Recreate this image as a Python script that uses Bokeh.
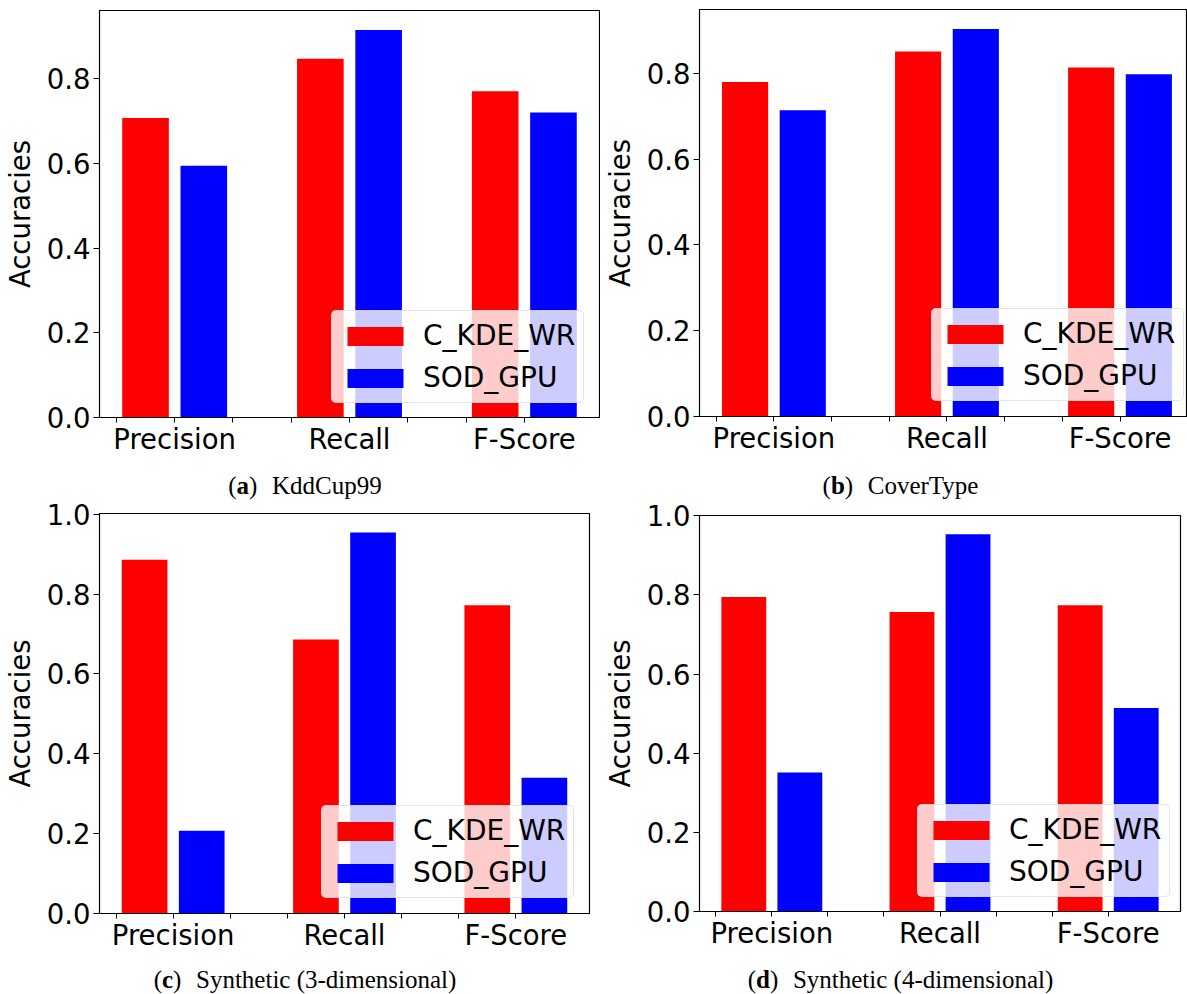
from bokeh.plotting import figure
from bokeh.models import (Range1d, FixedTicker, PrintfTickFormatter, Legend,
                          LegendItem, Div, ColumnDataSource)
from bokeh.layouts import column, row
from bokeh.embed import file_html
from bokeh.resources import INLINE

# ---------------- data ----------------
metrics = ["Precision", "Recall", "F-Score"]
series_names = ["C_KDE_WR", "SOD_GPU"]
series_colors = ["#ff0000", "#0000ff"]

kdd_ckde = [0.707, 0.847, 0.770]
kdd_sod = [0.594, 0.915, 0.720]

cover_ckde = [0.780, 0.851, 0.814]
cover_sod = [0.714, 0.904, 0.798]

syn3_ckde = [0.886, 0.686, 0.772]
syn3_sod = [0.207, 0.954, 0.340]

syn4_ckde = [0.795, 0.757, 0.774]
syn4_sod = [0.351, 0.953, 0.514]

y_ticks_top = [0.0, 0.2, 0.4, 0.6, 0.8]
y_ticks_bottom = [0.0, 0.2, 0.4, 0.6, 0.8, 1.0]

captions = [("a", "KddCup99"), ("b", "CoverType"),
            ("c", "Synthetic (3-dimensional)"), ("d", "Synthetic (4-dimensional)")]

# ---------------- layout settings ----------------
BAR_W = 0.8
FONT = "DejaVu Sans"
FS = "27.5px"

panels = [
    dict(a=kdd_ckde, b=kdd_sod, yt=y_ticks_top, w=600, h=462, bl=98, br=1, bt=10, bb=45,
         x_end=None, leg=(232, 14), cap_h=38, cap_pad=12, cap_dx=5),
    dict(a=cover_ckde, b=cover_sod, yt=y_ticks_top, w=587, h=462, bl=94, br=0, bt=9, bb=46,
         x_end=8.17, leg=(232, 15), cap_h=38, cap_pad=12, cap_dx=7),
    dict(a=syn3_ckde, b=syn3_sod, yt=y_ticks_bottom, w=600, h=458, bl=98, br=11, bt=13, bb=45,
         x_end=None, leg=(222, 15), cap_h=36, cap_pad=10, cap_dx=5),
    dict(a=syn4_ckde, b=syn4_sod, yt=y_ticks_bottom, w=587, h=458, bl=94, br=7, bt=15, bb=47,
         x_end=None, leg=(218, 14), cap_h=36, cap_pad=10, cap_dx=7),
]


def make_panel(cfg, letter, name):
    n = len(metrics)
    x_red = [3 * i + 0.5 for i in range(n)]
    x_blue = [3 * i + 1.5 for i in range(n)]
    lo = min(x_red) - BAR_W / 2
    hi = max(x_blue) + BAR_W / 2
    pad = 0.05 * (hi - lo)
    x_end = cfg["x_end"] if cfg["x_end"] is not None else hi + pad
    y_end = 1.05 * max(cfg["a"] + cfg["b"])

    p = figure(width=cfg["w"], height=cfg["h"], output_backend="svg", toolbar_location=None,
               x_range=Range1d(lo - pad, x_end), y_range=Range1d(0, y_end),
               min_border_left=cfg["bl"], min_border_right=cfg["br"],
               min_border_top=cfg["bt"], min_border_bottom=cfg["bb"])
    p.background_fill_color = "white"
    p.border_fill_color = "white"
    p.outline_line_color = "black"
    p.outline_line_width = 1.2
    p.xgrid.grid_line_color = None
    p.ygrid.grid_line_color = None

    src_r = ColumnDataSource(dict(x=x_red, top=cfg["a"]))
    src_b = ColumnDataSource(dict(x=x_blue, top=cfg["b"]))
    r1 = p.vbar(x="x", top="top", bottom=0, width=BAR_W, source=src_r,
                fill_color=series_colors[0], line_color=None)
    r2 = p.vbar(x="x", top="top", bottom=0, width=BAR_W, source=src_b,
                fill_color=series_colors[1], line_color=None)

    # x axis
    xa = p.xaxis[0]
    ticks = list(range(3 * n - 1))
    xa.ticker = FixedTicker(ticks=ticks)
    overrides = {t: "" for t in ticks}
    for i, m in enumerate(metrics):
        overrides[3 * i + 1] = m
    xa.major_label_overrides = overrides
    xa.minor_tick_line_color = None
    xa.major_tick_out = 5
    xa.major_tick_in = 0
    xa.major_label_standoff = 0
    xa.major_label_text_font = FONT
    xa.major_label_text_font_size = FS
    xa.major_label_text_color = "black"
    xa.axis_line_color = "black"
    xa.major_tick_line_color = "black"

    # y axis
    ya = p.yaxis[0]
    ya.ticker = FixedTicker(ticks=cfg["yt"])
    ya.formatter = PrintfTickFormatter(format="%.1f")
    ya.minor_tick_line_color = None
    ya.major_tick_out = 6
    ya.major_tick_in = 0
    ya.major_label_standoff = 3
    ya.major_label_text_font = FONT
    ya.major_label_text_font_size = FS
    ya.major_label_text_color = "black"
    ya.axis_label = "Accuracies"
    ya.axis_label_text_font = FONT
    ya.axis_label_text_font_size = FS
    ya.axis_label_text_font_style = "normal"
    ya.axis_label_text_color = "black"
    ya.axis_label_standoff = 8
    ya.axis_line_color = "black"
    ya.major_tick_line_color = "black"

    legend = Legend(items=[LegendItem(label=series_names[0], renderers=[r1]),
                           LegendItem(label=series_names[1], renderers=[r2])],
                    location=cfg["leg"])
    legend.label_text_font = FONT
    legend.label_text_font_size = "28px"
    legend.label_text_color = "black"
    legend.glyph_width = 70
    legend.glyph_height = 24
    legend.label_standoff = 13
    legend.label_height = 28
    legend.padding = 8
    legend.spacing = 9
    legend.border_line_color = "#cccccc"
    legend.border_line_width = 1
    legend.background_fill_color = "white"
    legend.background_fill_alpha = 0.8
    try:
        legend.border_radius = 5
    except Exception:
        pass
    p.add_layout(legend)

    cap = Div(text=(
        f'<div style="width:{cfg["w"]}px; text-align:center; font-family:\'Liberation Serif\', serif; '
        f'font-size:25px; line-height:24px; padding-top:{cfg["cap_pad"]}px; position:relative; '
        f'left:{cfg["cap_dx"]}px; color:black; white-space:nowrap;">'
        f'(<b>{letter}</b>)&nbsp;&nbsp;&#8202;{name}</div>'),
        width=cfg["w"], height=cfg["cap_h"], margin=0)
    return column(p, cap, spacing=0)


cols = [make_panel(cfg, letter, name) for cfg, (letter, name) in zip(panels, captions)]
layout = column(row(cols[0], cols[1], spacing=0), row(cols[2], cols[3], spacing=0), spacing=0)

open("out.html", "w").write(file_html(layout, INLINE))
